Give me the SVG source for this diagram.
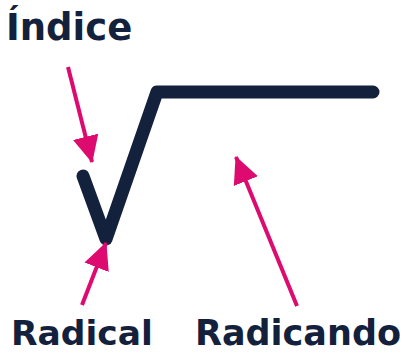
<svg xmlns="http://www.w3.org/2000/svg" width="403" height="353" viewBox="0 0 403 353">
<style>
.lbl{font-family:"DejaVu Sans",sans-serif;font-weight:bold;fill:#14213d}
.arr{stroke:#dd0a6f;stroke-width:4;fill:none;marker-end:url(#ah)}
</style>
<defs>
<marker id="ah" markerUnits="userSpaceOnUse" markerWidth="28" markerHeight="28" viewBox="0 0 28 28" refX="26" refY="14" orient="auto">
<path d="M0,1 L27,14 L0,27 Z" fill="#dd0a6f"/>
</marker>
</defs>
<rect width="403" height="353" fill="#fff"/>
<g id="radical-sign">
<path d="M83,176 L106,239 L157,92 L373,92" fill="none" stroke="#14213d" stroke-width="13" stroke-linecap="round" stroke-linejoin="round"/>
</g>
<g id="connectors">
<path class="arr" d="M68,67 L92,162"/>
<path class="arr" d="M82,305 L106,243"/>
<path class="arr" d="M297,306 L236,157"/>
</g>
<g id="indice"><text class="lbl" x="6" y="40" font-size="37">Índice</text></g>
<g id="radical"><text class="lbl" x="11" y="345" font-size="34.5">Radical</text></g>
<g id="radicando"><text class="lbl" x="195" y="345" font-size="35">Radicando</text></g>
</svg>
